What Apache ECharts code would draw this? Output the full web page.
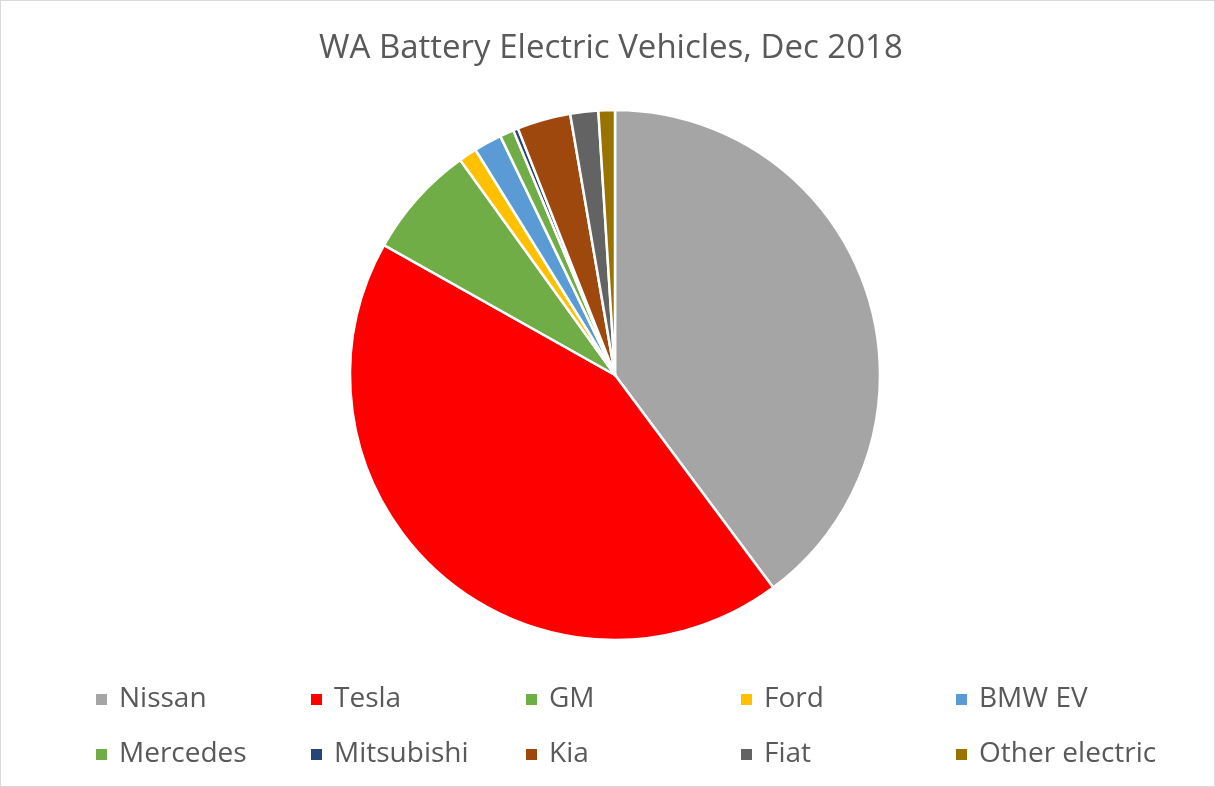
<!DOCTYPE html>
<html>
<head>
<meta charset="utf-8">
<script src="https://cdn.jsdelivr.net/npm/echarts@6/dist/echarts.min.js"></script>
<style>
  html, body { margin: 0; padding: 0; background: #fff; }
  #chart { width: 1213px; height: 785px; border: 1px solid #d9d9d9; }
</style>
</head>
<body>
<div id="chart"></div>
<script>
// share of WA battery electric vehicles (percent)
var makes = ['Nissan', 'Tesla', 'GM', 'Ford', 'BMW EV', 'Mercedes', 'Mitsubishi', 'Kia', 'Fiat', 'Other electric'];
var shares = [39.7, 43.2, 6.9, 1.1, 1.7, 0.85, 0.3, 3.25, 1.7, 1.0];
var colors = ['#A5A5A5', '#FF0000', '#70AD47', '#FFC000', '#5B9BD5', '#70AD47', '#264478', '#9E480E', '#636363', '#997300'];

var pieData = makes.map(function (name, i) {
    return { name: name, value: shares[i], itemStyle: { color: colors[i] } };
});

var myChart = echarts.init(document.getElementById('chart'));
myChart.setOption({
    animation: false,
    title: {
        text: 'WA Battery Electric Vehicles, Dec 2018',
        left: 318,
        top: 31,
        padding: 0,
        textStyle: { fontFamily: 'Open Sans', fontSize: 33, fontWeight: 'normal', color: '#595959' }
    },
    legend: {
        data: makes,
        left: 93,
        top: 671,
        width: 1100,
        padding: 0,
        itemGap: 0,
        itemWidth: 13,
        itemHeight: 13,
        icon: 'rect',
        textStyle: {
            fontFamily: 'Open Sans',
            fontSize: 28,
            color: '#595959',
            width: 190,
            lineHeight: 55,
            padding: [0, 0, 0, 6]
        }
    },
    series: [{
        type: 'pie',
        center: [614, 374],
        radius: 265,
        startAngle: 90,
        clockwise: true,
        label: { show: false },
        labelLine: { show: false },
        itemStyle: { borderColor: '#ffffff', borderWidth: 2.5 },
        emphasis: { disabled: true },
        data: pieData
    }]
});
</script>
</body>
</html>
